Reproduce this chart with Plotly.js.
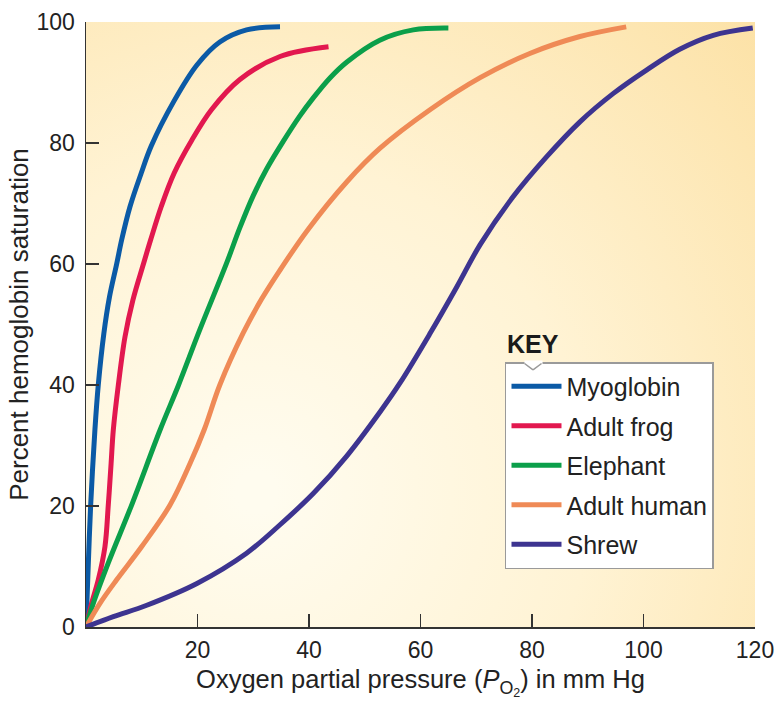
<!DOCTYPE html>
<html>
<head>
<meta charset="utf-8">
<script src="https://cdn.plot.ly/plotly-3.0.1.min.js"></script>
<style>html,body{margin:0;padding:0;background:#fff;}#chart{width:777px;height:703px;}</style>
</head>
<body>
<div id="chart"></div>
<script>
// Series names and colours
const seriesNames = ["Myoglobin", "Adult frog", "Elephant", "Adult human", "Shrew"];
const seriesColors = ["#0b5aa6", "#e2184f", "#0b9f4a", "#ef8a56", "#3d3490"];

// Oxygen partial pressure (mm Hg) and percent saturation
const myoX = [0, 0.42, 0.84, 1.6, 2.2, 3.2, 4.2, 5.5, 6.4, 7.9, 9.9, 11.7, 15.7, 19.9, 24, 28.8, 34.8];
const myoY = [0, 10.6, 20.2, 32.6, 40, 48.5, 54.5, 60, 64, 69.5, 75, 79.5, 86.8, 92.9, 96.7, 98.7, 99.2];

const frogX = [0, 1.0, 2.2, 3.4, 4.0, 4.5, 4.9, 5.8, 7.0, 8.4, 10.3, 11.6, 13.5, 15.8, 19, 22.5, 27.6, 34.8, 43.5];
const frogY = [0, 3.9, 7.8, 13.3, 20.2, 27, 32.6, 40, 48, 54, 60, 64, 69.5, 75, 80.5, 85.5, 90.5, 94.3, 95.9];

const elephX = [0, 1.3, 4.0, 8.2, 13.3, 16.6, 20.4, 25.2, 27.6, 30, 32.4, 35.4, 38.3, 40.8, 43.8, 46.8, 52.7, 58.7, 65];
const elephY = [0, 3.9, 10.6, 20.2, 32.6, 40, 49.1, 60.1, 66, 71.3, 75.7, 80.3, 84.4, 87.5, 90.8, 93.4, 97, 98.7, 99];

const humanX = [0, 2.5, 5.5, 10, 15.1, 18.7, 21.2, 24, 28.2, 31.5, 34.8, 39.9, 46.8, 52.7, 61.7, 70.7, 79.6, 88.6, 96.9];
const humanY = [0, 3.9, 7.8, 13.3, 20.2, 27.1, 32.6, 40, 48.6, 54.2, 59, 65.8, 73.6, 79.1, 85.5, 90.8, 94.8, 97.6, 99.2];

const shrewX = [0, 4.9, 10.9, 19.9, 28.8, 34.8, 40.8, 46.8, 52.7, 56.3, 61.7, 66.5, 70.7, 76.6, 82.6, 88.6, 94.6, 100.6, 106.5, 112.5, 119.6];
const shrewY = [0, 1.7, 3.6, 7.2, 12.2, 16.9, 22.1, 28.3, 35.5, 40.3, 48.5, 56.2, 63.2, 71.1, 77.7, 83.5, 88.2, 92.1, 95.5, 97.8, 99];

const xTicks = [20, 40, 60, 80, 100, 120];
const yTicks = [0, 20, 40, 60, 80, 100];

const xs = [myoX, frogX, elephX, humanX, shrewX];
const ys = [myoY, frogY, elephY, humanY, shrewY];

// Background gradient for the plot area (generated locally)
function makeBg() {
  const c = document.createElement('canvas');
  c.width = 669; c.height = 605;
  const g = c.getContext('2d');
  const rg = g.createRadialGradient(170, 470, 20, 170, 470, 720);
  rg.addColorStop(0, '#fffcef');
  rg.addColorStop(0.45, '#fff3d4');
  rg.addColorStop(1, '#fce0a2');
  g.fillStyle = rg;
  g.fillRect(0, 0, c.width, c.height);
  return c.toDataURL('image/png');
}

const FONT = '"Liberation Sans", Arial, sans-serif';

const traces = seriesNames.map((n, i) => ({
  type: 'scatter',
  mode: 'lines',
  name: n,
  x: xs[i],
  y: ys[i],
  legendgroup: 'g' + i,
  line: {color: seriesColors[i], width: 5, shape: 'spline', smoothing: 1},
  hoverinfo: 'skip'
}));

// small notch in the key's top border
const notchL = [0.6532, 0.4375], notchB = [0.6682, 0.4250], notchR = [0.6831, 0.4375];
const notchAnn = (tip, dx, dy) => ({
  xref: 'paper', yref: 'paper', x: tip[0], y: tip[1], ax: dx, ay: dy,
  text: ' ', font: {size: 1}, showarrow: true, arrowhead: 0, arrowwidth: 1.5,
  arrowcolor: '#9a9a9a', standoff: 0, startstandoff: 0
});

const layout = {
  width: 777,
  height: 703,
  margin: {l: 86, r: 22, t: 22, b: 76, pad: 0},
  paper_bgcolor: '#ffffff',
  plot_bgcolor: 'rgba(0,0,0,0)',
  font: {family: FONT, color: '#222', size: 23},
  showlegend: true,
  legend: {
    x: 0.6263, y: 0.438, xanchor: 'left', yanchor: 'top',
    bgcolor: '#ffffff', bordercolor: '#9a9a9a', borderwidth: 1.5,
    font: {family: FONT, size: 25, color: '#222'},
    tracegroupgap: 4,
    itemwidth: 50
  },
  xaxis: {
    range: [0, 120],
    tickvals: xTicks,
    ticks: 'inside', ticklen: 13, tickwidth: 1.5, tickcolor: '#333',
    showline: true, linecolor: '#333', linewidth: 1.5,
    showgrid: false, zeroline: false,
    tickfont: {family: FONT, size: 23, color: '#222'},
    ticklabelstandoff: 2,
    title: {text: 'Oxygen partial pressure (<i>P</i><sub>O<sub>2</sub></sub>) in mm Hg', font: {family: FONT, size: 25.5, color: '#222'}, standoff: 8},
    fixedrange: true
  },
  yaxis: {
    range: [0, 100],
    tickvals: yTicks,
    ticks: 'inside', ticklen: 13, tickwidth: 1.5, tickcolor: '#333',
    showline: true, linecolor: '#333', linewidth: 1.5,
    showgrid: false, zeroline: false,
    tickfont: {family: FONT, size: 23, color: '#222'},
    ticklabelstandoff: 5,
    title: {text: 'Percent hemoglobin saturation', font: {family: FONT, size: 26, color: '#222'}, standoff: 0},
    fixedrange: true
  },
  images: [{
    source: makeBg(), xref: 'paper', yref: 'paper', x: 0, y: 1, sizex: 1, sizey: 1,
    sizing: 'stretch', layer: 'below', xanchor: 'left', yanchor: 'top'
  }],
  annotations: [
    {
      text: '<b>KEY</b>', xref: 'paper', yref: 'paper', x: 0.6263, y: 0.467,
      xanchor: 'left', yanchor: 'middle', showarrow: false,
      font: {family: FONT, size: 25, color: '#1a1a1a'}
    },
    {
      text: ' ', xref: 'paper', yref: 'paper', x: notchB[0], y: notchL[1],
      xanchor: 'center', yanchor: 'middle', showarrow: false,
      bgcolor: '#ffffff', width: 17, height: 3, borderpad: 0, font: {size: 1}
    },
    notchAnn(notchB, -10, -7.5),
    notchAnn(notchB, 10, -7.5)
  ]
};

Plotly.newPlot('chart', traces, layout, {displayModeBar: false, staticPlot: true});
</script>
</body>
</html>
